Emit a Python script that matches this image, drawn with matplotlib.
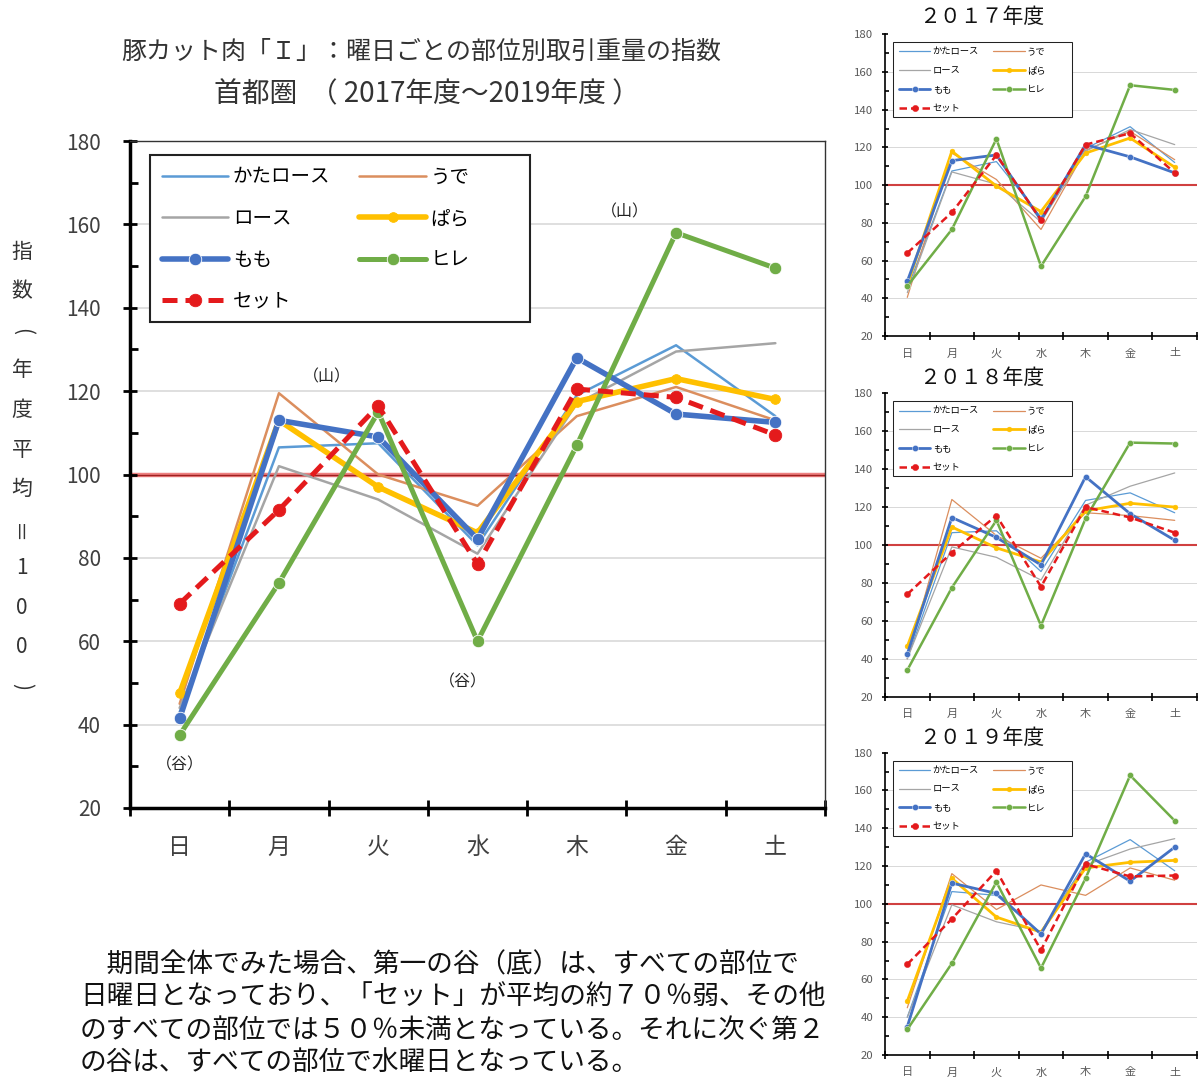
import numpy as np
import matplotlib
matplotlib.use("Agg")
import matplotlib.pyplot as plt
from matplotlib.lines import Line2D
from matplotlib.patches import Rectangle
from matplotlib.ticker import MultipleLocator, FixedLocator, NullFormatter

plt.rcParams['font.family'] = ['Noto Sans CJK JP', 'DejaVu Sans']

# ---- data -------------------------------------------------------------
days = ['日', '月', '火', '水', '木', '金', '土']
parts = ['かたロース', 'うで', 'ロース', 'ぱら', 'もも', 'ヒレ', 'セット']

# index (annual average = 100), whole period 2017-2019
idx_all = {
    'かたロース': [43, 106.5, 107.5, 83, 119, 131, 114],
    'うで':       [45, 119.5, 100, 92.5, 114, 121, 113],
    'ロース':     [44, 102, 94, 81, 117, 129.5, 131.5],
    'ぱら':       [47.5, 113, 97, 86, 117.5, 123, 118],
    'もも':       [41.5, 113, 109, 84.5, 128, 114.5, 112.5],
    'ヒレ':       [37.5, 74, 115, 60, 107, 158, 149.5],
    'セット':     [69, 91.5, 116.5, 78.5, 120.5, 118.5, 109.5],
}
idx_2017 = {
    'かたロース': [45, 107.5, 112.5, 83, 119.5, 131, 112],
    'うで':       [40.5, 117, 103, 76.5, 118.5, 128.5, 113.5],
    'ロース':     [43, 107, 100.5, 80.5, 118, 129.5, 121.5],
    'ぱら':       [47, 118, 99.5, 86, 117, 125, 109.5],
    'もも':       [49, 113, 116, 81.5, 121.5, 115, 106.5],
    'ヒレ':       [46.5, 76.5, 124.5, 57, 94, 153, 150.5],
    'セット':     [64, 85.5, 116, 81.5, 121.5, 127.5, 106.5],
}
idx_2018 = {
    'かたロース': [40, 106.5, 107.5, 86, 123.5, 127.5, 117],
    'うで':       [40, 124, 105, 93, 117, 115.5, 113],
    'ロース':     [40, 99, 93.5, 81.5, 121, 131, 138],
    'ぱら':       [46.5, 109.5, 98.5, 91, 118, 122, 120],
    'もも':       [42.5, 114.5, 104, 89.5, 136, 116.5, 102.5],
    'ヒレ':       [34, 77.5, 113, 57.5, 114, 154, 153.5],
    'セット':     [74, 96, 115.5, 78, 120, 114.5, 106.5],
}
idx_2019 = {
    'かたロース': [40, 106.5, 104.5, 84.5, 122, 134, 117.5],
    'うで':       [45, 116, 97, 110, 104.5, 119, 112.5],
    'ロース':     [40, 99.5, 90.5, 85.5, 120.5, 129, 134.5],
    'ぱら':       [48.5, 113.5, 93, 85, 119, 122, 123],
    'もも':       [35, 111, 105.5, 84, 126.5, 112, 130],
    'ヒレ':       [33.5, 68.5, 111.5, 66, 113.5, 168, 144],
    'セット':     [68, 92, 117.5, 75.5, 121, 114.5, 115],
}
years = ['２０１７年度', '２０１８年度', '２０１９年度']

# ---- styles -----------------------------------------------------------
colors = {
    'かたロース': '#5B9BD5', 'うで': '#DB8E5E', 'ロース': '#A5A5A5',
    'ぱら': '#FFC000', 'もも': '#4472C4', 'ヒレ': '#70AD47', 'セット': '#E41A1C',
}
thick = {'かたロース': False, 'うで': False, 'ロース': False,
         'ぱら': True, 'もも': True, 'ヒレ': True, 'セット': True}


def line_kw(part, s):
    kw = dict(color=colors[part], solid_capstyle='round')
    if thick[part]:
        kw.update(lw=4.0 * s, marker='o', ms=9 * s,
                  mec='#ffffff' if part != 'ぱら' else colors[part],
                  mew=0.6 * s, mfc=colors[part])
        if part == 'ぱら':
            kw.update(ms=7 * s)
        if part == 'ヒレ':
            kw.update(lw=3.6 * s)
        if part == 'セット':
            kw.update(lw=3.6 * s, ls=(0, (3.0, 1.6)), mec=colors[part])
    else:
        kw.update(lw=1.8 * s)
    return kw


W, H = 1198, 1078
fig = plt.figure(figsize=(W / 100, H / 100), dpi=100)
x = np.arange(len(days))
legend_order = ['かたロース', 'ロース', 'もも', 'セット', 'うで', 'ぱら', 'ヒレ']


def style_axes(ax, s, big):
    ax.set_xlim(-0.5, 6.5)
    ax.set_ylim(20, 180)
    ax.yaxis.set_major_locator(MultipleLocator(20))
    ax.yaxis.set_minor_locator(MultipleLocator(10))
    ax.xaxis.set_major_locator(FixedLocator(np.arange(-0.5, 7, 1)))
    ax.xaxis.set_major_formatter(NullFormatter())
    ax.xaxis.set_minor_locator(FixedLocator(x))
    ax.set_xticklabels(days, minor=True)
    for g in [40, 60, 80, 120, 140, 160]:
        ax.axhline(g, color='#D9D9D9', lw=1.2 * s, zorder=0)
    if big:
        ax.axhline(100, color='#EE8080', lw=3.2, zorder=1)
        ax.axhline(100, color='#A02020', lw=1.0, zorder=1)
        lab_c = '#404040'
        ax.tick_params(axis='y', which='major', direction='inout', length=10,
                       width=2, labelsize=15, pad=16, labelcolor=lab_c)
        ax.tick_params(axis='y', which='minor', direction='in', length=6, width=2)
        ax.tick_params(axis='x', which='major', direction='inout', length=12, width=2)
        ax.tick_params(axis='x', which='minor', length=0, labelsize=16.5, pad=20,
                       labelcolor=lab_c)
        for sp in ['left', 'bottom']:
            ax.spines[sp].set_linewidth(2.5)
        for sp in ['top', 'right']:
            ax.spines[sp].set_linewidth(1.0)
            ax.spines[sp].set_color('#333333')
    else:
        ax.axhline(100, color='#D04040', lw=1.5, zorder=1)
        lab_c = '#595959'
        ax.tick_params(axis='y', which='major', direction='inout', length=5,
                       width=1.2, labelsize=8.2, pad=6, labelcolor=lab_c)
        ax.tick_params(axis='y', which='minor', direction='in', length=3, width=1.2)
        ax.tick_params(axis='x', which='major', direction='inout', length=6, width=1.2)
        ax.tick_params(axis='x', which='minor', length=0, labelsize=8, pad=9,
                       labelcolor=lab_c)
        for sp in ['left', 'bottom']:
            ax.spines[sp].set_linewidth(1.2)
        ax.spines['top'].set_visible(False)
        ax.spines['right'].set_visible(False)


def draw_series(ax, data, s):
    for k, part in enumerate(parts):
        ax.plot(x, data[part], zorder=2 + k, **line_kw(part, s))


def add_legend(ax, s, fs, anchor, frame_box):
    # white box with a dark border behind the legend entries
    x0, y0, x1, y1 = frame_box
    ax.add_patch(Rectangle((x0, y0), x1 - x0, y1 - y0, transform=ax.transAxes,
                           facecolor='white', edgecolor='#222222',
                           lw=1.5 * s, zorder=19))
    handles = [Line2D([], [], **line_kw(p, s)) for p in legend_order]
    leg = ax.legend(handles, legend_order, ncol=2, loc='upper left',
                    bbox_to_anchor=anchor, fontsize=fs, frameon=False,
                    handlelength=3.4, handletextpad=0.25, columnspacing=1.5,
                    labelspacing=1.05, borderpad=0.6, borderaxespad=0)
    leg.set_zorder(20)


# ---- main chart -------------------------------------------------------
ax = fig.add_axes([130 / W, 1 - 808 / H, 695 / W, 667 / H])
style_axes(ax, 1.0, True)
draw_series(ax, idx_all, 1.0)
add_legend(ax, 1.0, 14, (0.029, 0.979), (0.0288, 0.7286, 0.5755, 0.979))

for txt, xx, yy in [('（山）', 1.48, 123.5), ('（山）', 4.48, 163),
                    ('（谷）', 0.0, 30.3), ('（谷）', 2.85, 50.2)]:
    ax.text(xx, yy, txt, fontsize=11.5, ha='center', va='center', color='#222222')

fig.text(421 / W, 1 - 52 / H, '豚カット肉「Ｉ」：曜日ごとの部位別取引重量の指数',
         fontsize=18, ha='center', va='center', color='#333333')
fig.text(427 / W, 1 - 94 / H, '首都圏  （ 2017年度～2019年度 ）',
         fontsize=20, ha='center', va='center', color='#333333')

# vertical y-axis caption
ylab = [('指', 0), ('数', 0), ('(', -90), ('年', 0), ('度', 0), ('平', 0),
        ('均', 0), ('＝', 90), ('1', 0), ('0', 0), ('0', 0), (')', -90)]
for i, (ch, rot) in enumerate(ylab):
    fig.text(22 / W, 1 - (252 + i * 39.5) / H, ch, fontsize=15, ha='center',
             va='center', rotation=rot, color='#333333')

# ---- yearly charts ----------------------------------------------------
small_boxes = [(34.3, 336.0), (393.3, 696.7), (752.7, 1055.0)]
title_y = [17, 378, 738]
for data, (top, bot), yname, ty in zip([idx_2017, idx_2018, idx_2019],
                                       small_boxes, years, title_y):
    sa = fig.add_axes([885 / W, 1 - bot / H, 312 / W, (bot - top) / H])
    style_axes(sa, 0.6, False)
    draw_series(sa, data, 0.5)
    hgt = bot - top
    add_legend(sa, 0.5, 6.7, (0.026, 0.974),
               (0.0256, 0.974 - 75 / hgt, 0.599, 0.974))
    fig.text(982 / W, 1 - ty / H, yname, fontsize=15, ha='center', va='center',
             color='#111111')

# ---- comment text -----------------------------------------------------
body = ['　期間全体でみた場合、第一の谷（底）は、すべての部位で',
        '日曜日となっており、「セット」が平均の約７０％弱、その他',
        'のすべての部位では５０％未満となっている。それに次ぐ第２',
        'の谷は、すべての部位で水曜日となっている。']
for i, line in enumerate(body):
    fig.text(80 / W, 1 - (965 + i * 32.5) / H, line, fontsize=19.2, ha='left',
             va='center', color='#111111')

fig.savefig('out.png', dpi=100)
